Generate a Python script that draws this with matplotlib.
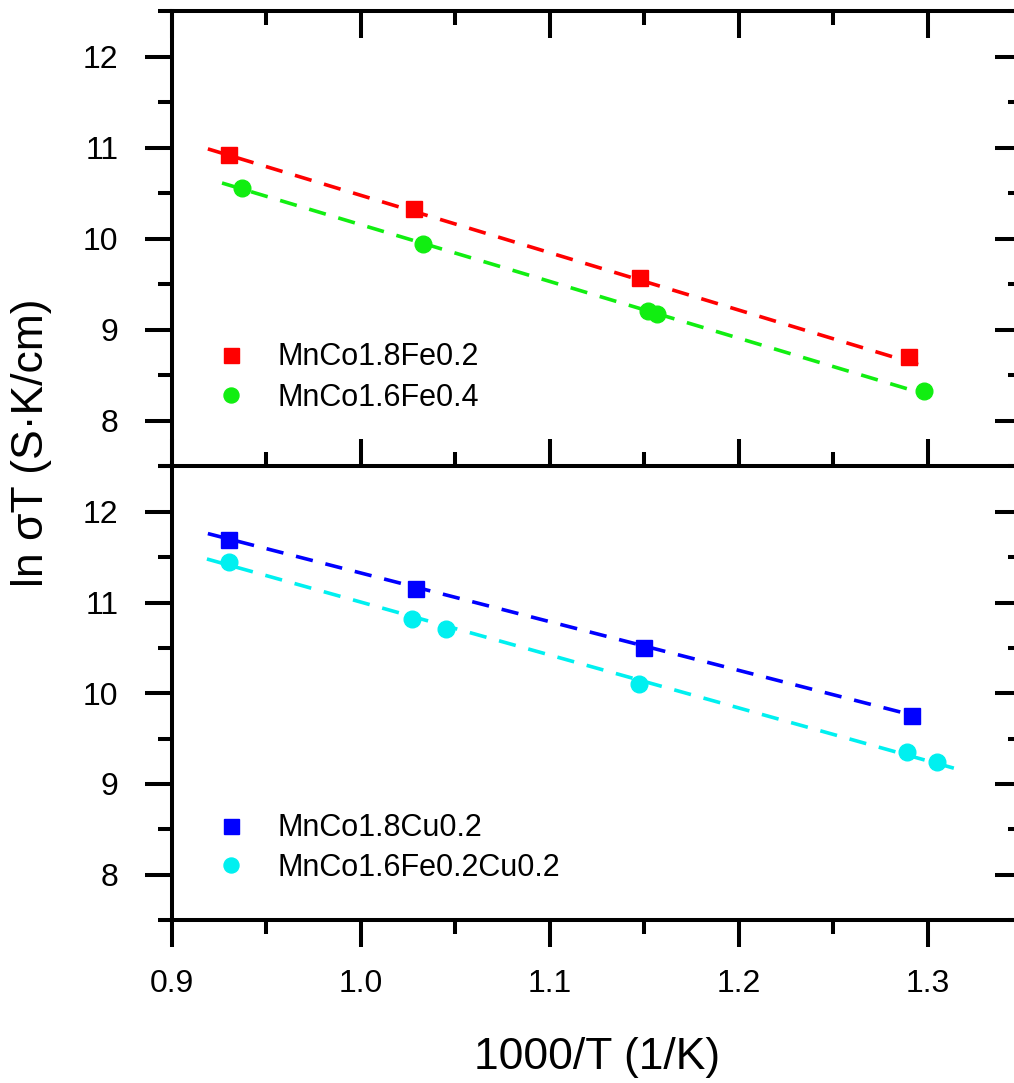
"""
ln(sigma*T) vs 1000/T for the spinel samples, two stacked panels.
"""

import matplotlib
matplotlib.use('Agg')
import matplotlib.pyplot as plt
from matplotlib.ticker import MultipleLocator, NullFormatter

plt.rcParams['font.family'] = ['Liberation Sans', 'DejaVu Sans']

# top panel: Fe substituted
fe02_x = [0.930, 1.028, 1.148, 1.290]
fe02_y = [10.92, 10.33, 9.57, 8.70]
fe04_x = [0.937, 1.033, 1.152, 1.157, 1.298]
fe04_y = [10.56, 9.95, 9.21, 9.18, 8.33]

# bottom panel: Cu substituted
cu02_x = [0.930, 1.029, 1.150, 1.292]
cu02_y = [11.69, 11.15, 10.50, 9.75]
fecu_x = [0.930, 1.027, 1.045, 1.147, 1.289, 1.305]
fecu_y = [11.45, 10.82, 10.71, 10.10, 9.35, 9.24]

# linear fits (end points)
fe02_fit_x = [0.919, 1.295]
fe02_fit_y = [10.99, 8.62]
fe04_fit_x = [0.9265, 1.293]
fe04_fit_y = [10.615, 8.33]
cu02_fit_x = [0.919, 1.288]
cu02_fit_y = [11.76, 9.78]
fecu_fit_x = [0.9185, 1.318]
fecu_fit_y = [11.48, 9.15]

x_ticks = [0.9, 1.0, 1.1, 1.2, 1.3]
y_ticks = [8, 9, 10, 11, 12]

RED = '#ff0000'
GREEN = '#11ee11'
BLUE = '#0000ff'
CYAN = '#00f0f0'

lw_axis = 2.9
tick_major = 19.5
tick_minor = 10


def style_axes(ax, top_panel):
    ax.set_xlim(0.9, 1.35)
    ax.set_ylim(7.5, 12.5)
    ax.xaxis.set_major_locator(MultipleLocator(0.1))
    ax.xaxis.set_minor_locator(MultipleLocator(0.05))
    ax.set_yticks(y_ticks)
    ax.yaxis.set_minor_locator(MultipleLocator(0.5))
    for s in ax.spines.values():
        s.set_linewidth(lw_axis)
    ax.tick_params(axis='y', which='both', direction='out', width=lw_axis,
                   labelsize=23, pad=19, right=False)
    ax.tick_params(axis='y', which='major', length=tick_major)
    ax.tick_params(axis='y', which='minor', length=tick_minor)
    if top_panel:
        ax.tick_params(axis='x', which='both', direction='in', top=True, bottom=True,
                       labelbottom=False, width=lw_axis)
        ax.spines['bottom'].set_visible(False)
    else:
        ax.tick_params(axis='x', which='both', direction='out', top=False,
                       width=lw_axis, labelsize=23, pad=16)
        ax.set_xticks(x_ticks)
        ax.set_xticklabels(['%.1f' % v for v in x_ticks])
    ax.tick_params(axis='x', which='major', length=tick_major)
    ax.tick_params(axis='x', which='minor', length=tick_minor)

    # right side ticks point inward
    sec = ax.secondary_yaxis('right')
    sec.set_yticks(y_ticks)
    sec.yaxis.set_minor_locator(MultipleLocator(0.5))
    sec.yaxis.set_major_formatter(NullFormatter())
    sec.spines['right'].set_linewidth(lw_axis)
    sec.tick_params(which='both', direction='in', width=lw_axis)
    sec.tick_params(which='major', length=tick_major)
    sec.tick_params(which='minor', length=tick_minor)


fig = plt.figure(figsize=(10.14, 10.83), dpi=100)
ax_top = fig.add_axes([0.1696, 0.5693, 0.8383, 0.4201])
ax_bot = fig.add_axes([0.1696, 0.1505, 0.8383, 0.4188])

dash = (0, (4.8, 3.6))
fit_lw = 2.6

ax_top.plot(fe02_fit_x, fe02_fit_y, color=RED, lw=fit_lw, ls=dash)
ax_top.plot(fe04_fit_x, fe04_fit_y, color=GREEN, lw=fit_lw, ls=dash)
ax_top.plot(fe02_x, fe02_y, ls='none', marker='s', ms=12, color=RED, label='MnCo1.8Fe0.2')
ax_top.plot(fe04_x, fe04_y, ls='none', marker='o', ms=12, color=GREEN, label='MnCo1.6Fe0.4')

ax_bot.plot(cu02_fit_x, cu02_fit_y, color=BLUE, lw=fit_lw, ls=dash)
ax_bot.plot(fecu_fit_x, fecu_fit_y, color=CYAN, lw=fit_lw, ls=dash)
ax_bot.plot(cu02_x, cu02_y, ls='none', marker='s', ms=12, color=BLUE, label='MnCo1.8Cu0.2')
ax_bot.plot(fecu_x, fecu_y, ls='none', marker='o', ms=12, color=CYAN, label='MnCo1.6Fe0.2Cu0.2')

style_axes(ax_top, True)
style_axes(ax_bot, False)

ax_top.legend(loc='upper left', bbox_to_anchor=(0.052, 0.273), frameon=False, fontsize=22,
              borderpad=0, borderaxespad=0, handlelength=1.0, handletextpad=1.0,
              labelspacing=0.35, markerscale=0.9)
ax_bot.legend(loc='upper left', bbox_to_anchor=(0.052, 0.235), frameon=False, fontsize=22,
              borderpad=0, borderaxespad=0, handlelength=1.0, handletextpad=1.0,
              labelspacing=0.3, markerscale=0.9)

fig.text(32 / 1014, 1 - 443 / 1083, 'ln σT (S·K/cm)', rotation=90, fontsize=32,
         ha='center', va='center')
fig.text(597 / 1014, 1 - 1058 / 1083, '1000/T (1/K)', fontsize=32, ha='center', va='center')

fig.savefig('out.png', dpi=100)
